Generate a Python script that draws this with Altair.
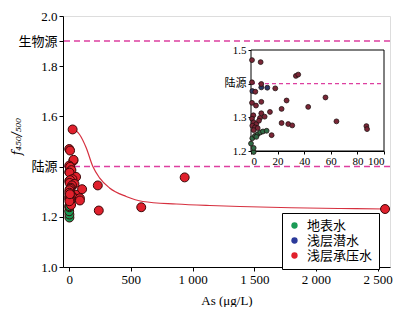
import altair as alt
import pandas as pd

FONT = "Liberation Serif, Noto Sans CJK SC"

# ---- data ----
green_x = [2, 2, 0, 1, 3, 5, 7, 9, 11.75, 4]
green_y = [1.197, 1.209, 1.222, 1.238, 1.245, 1.250, 1.255, 1.258, 1.260, 1.242]

blue_x = [7.75, 12.25, 1]
blue_y = [1.389, 1.388, 1.378]

red_x = [28, 0.75, 7.25, 33.75, 35.5, 0.75, 7.75, 18.25, 3.25, 56, 26.75, 0.75,
         7.75, 3.75, 43, 23, 14.25, 7.75, 10.25, 6.75, 1.75, 0.75, 64.25, 23, 28,
         31, 86.75, 87.25, 15.5, 2, 4, 1, 3, 5, 2, 6, 105, 232, 240, 584, 936, 2560]
red_y = [1.548, 1.470, 1.464, 1.423, 1.427, 1.404, 1.399, 1.386, 1.376, 1.359, 1.350,
         1.343, 1.346, 1.335, 1.331, 1.325, 1.316, 1.312, 1.302, 1.298, 1.306, 1.296,
         1.288, 1.283, 1.280, 1.276, 1.274, 1.265, 1.247, 1.285, 1.280, 1.275, 1.270,
         1.268, 1.262, 1.290, 1.310, 1.325, 1.225, 1.238, 1.357, 1.231]

curve_x = [43, 84, 138, 192, 246, 327, 462, 597, 868, 1139, 1382, 1800, 2200, 2560]
curve_y = [1.548, 1.528, 1.475, 1.400, 1.355, 1.315, 1.281, 1.261, 1.251, 1.245,
           1.241, 1.236, 1.233, 1.231]

groups = ["地表水", "浅层潜水", "浅层承压水"]
main_ticks = [1.0, 1.2, 1.4, 1.6, 1.8, 1.9, 2.0]
inset_yticks = [1.2, 1.3, 1.4, 1.5]
inset_xticks = [0, 20, 40, 60, 80, 100]

rows = ([{"As": x, "f": y, "g": groups[0]} for x, y in zip(green_x, green_y)] +
        [{"As": x, "f": y, "g": groups[1]} for x, y in zip(blue_x, blue_y)] +
        [{"As": x, "f": y, "g": groups[2]} for x, y in zip(red_x, red_y)])
pts = pd.DataFrame(rows)
pts["o"] = range(len(pts))
curve = pd.DataFrame({"As": curve_x, "f": curve_y})
refs = pd.DataFrame({"f": [1.9, 1.4]})

W, H = 327, 251
PINK = "#dd3fa0"

xs = alt.Scale(domain=[-50, 2600], nice=False, zero=False)
ys = alt.Scale(domain=[1.0, 2.0], nice=False, zero=False)

x_axis = alt.Axis(values=[0, 500, 1000, 1500, 2000, 2500], grid=False,
                  labelExpr="replace(format(datum.value, ',d'), ',', ' ')",
                  title="As (μg/L)", titleFontWeight="normal", titleFontSize=13,
                  titleFont=FONT, labelFont=FONT, labelFontSize=13, tickSize=4,
                  domainColor="black", tickColor="black", titlePadding=8)
y_axis = alt.Axis(values=main_ticks, grid=False,
                  labelExpr="datum.value == 1.4 ? '陆源' : (datum.value == 1.9 ? '生物源' : format(datum.value, '.1f'))",
                  title="f₄₅₀/₅₀₀", titleFontStyle="italic", titleFontWeight="normal",
                  titleFontSize=12, titleFont="DejaVu Serif", labelFont=FONT, labelFontSize=13,
                  tickSize=4, domainColor="black", tickColor="black",
                  titleX=-40, titleY=120, titleAngle=-90, titleAlign="center",
                  titleBaseline="bottom")

rules = alt.Chart(refs).mark_rule(color=PINK, strokeDash=[6, 4], strokeWidth=1.5).encode(
    y=alt.Y("f:Q", scale=ys, axis=y_axis))
line = alt.Chart(curve).mark_line(color="#d6303f", strokeWidth=1.2, interpolate="monotone").encode(
    x=alt.X("As:Q", scale=xs, axis=x_axis),
    y=alt.Y("f:Q", scale=ys, axis=y_axis))
color_main = alt.Color("g:N", scale=alt.Scale(domain=groups, range=["#1a9a55", "#2b3a9a", "#e0202c"]),
                       legend=alt.Legend(title=None, orient="none", legendX=219, legendY=197,
                                         strokeColor="black", fillColor="white", padding=6,
                                         symbolType="circle", symbolSize=40, symbolStrokeWidth=0,
                                         labelFont=FONT, labelFontSize=13, rowPadding=1,
                                         labelOffset=6))
points = alt.Chart(pts).mark_point(filled=True, size=80, stroke="#3a0808", strokeWidth=1,
                                   opacity=1, shape="circle").encode(
    x=alt.X("As:Q", scale=xs, axis=x_axis),
    y=alt.Y("f:Q", scale=ys, axis=y_axis),
    color=color_main,
    order="o:Q")
main = alt.layer(rules, line, points)

# ---- inset ----
ixs = alt.Scale(domain=[0, 100], range=[188, 321], nice=False, zero=False)
iys = alt.Scale(domain=[1.2, 1.5], range=[135, 34], nice=False, zero=False)
ix_axis = alt.Axis(values=inset_xticks, orient="bottom", offset=-116, grid=False, title=None,
                   labelFont=FONT, labelFontSize=11, tickSize=3, domainColor="black",
                   tickColor="black", labelPadding=1)
iy_axis = alt.Axis(values=inset_yticks, orient="left", offset=-188, grid=False, title=None,
                   labelExpr="datum.value == 1.4 ? '陆源' : format(datum.value, '.1f')",
                   labelFont=FONT, labelFontSize=11, tickSize=3, domainColor="black",
                   tickColor="black", labelPadding=2)
frame_df = pd.DataFrame({"x1": [0], "x2": [100], "y1": [1.2], "y2": [1.5]})
frame = alt.Chart(frame_df).mark_rect(fill="white", stroke="black", strokeWidth=1).encode(
    x=alt.X("x1:Q", scale=ixs, axis=ix_axis), x2="x2:Q",
    y=alt.Y("y1:Q", scale=iys, axis=iy_axis), y2="y2:Q")
irule_df = pd.DataFrame({"x1": [0], "x2": [100], "y": [1.4]})
irule = alt.Chart(irule_df).mark_rule(color=PINK, strokeDash=[4, 3], strokeWidth=1.2).encode(
    x=alt.X("x1:Q", scale=ixs, axis=ix_axis), x2="x2:Q",
    y=alt.Y("y:Q", scale=iys, axis=iy_axis))
ipts = alt.Chart(pts).transform_filter("datum.As <= 100 && datum.f <= 1.5").mark_point(
    filled=True, size=24, stroke="#201010", strokeWidth=0.8, opacity=1, shape="circle").encode(
    x=alt.X("As:Q", scale=ixs, axis=ix_axis),
    y=alt.Y("f:Q", scale=iys, axis=iy_axis),
    color=alt.Color("g:N", scale=alt.Scale(domain=groups, range=["#2f6a45", "#2a3a66", "#7a2636"]),
                    legend=None),
    order="o:Q")
inset = alt.layer(frame, irule, ipts)

chart = alt.layer(main, inset).resolve_scale(x="independent", y="independent", color="independent").properties(
    width=W, height=H,
    autosize=alt.AutoSizeParams(type="none"),
    padding={"left": 55, "top": 8, "right": 5, "bottom": 40},
).configure_view(stroke="#888888", strokeWidth=2).configure(background="white")

chart.save("out.html", embed_options={"renderer": "svg", "actions": False})
